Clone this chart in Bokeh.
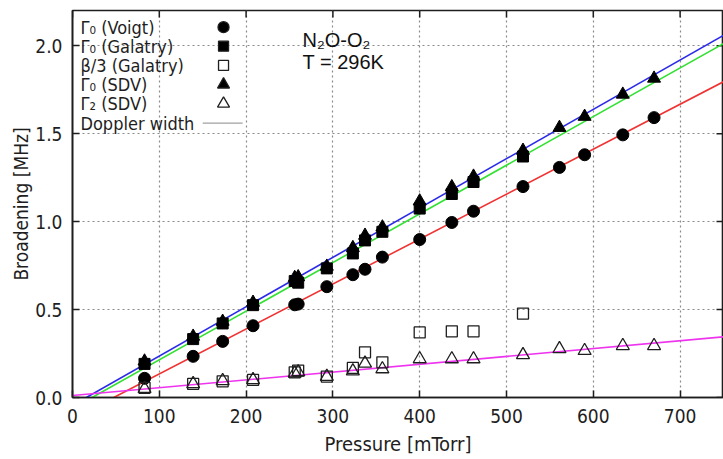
from bokeh.plotting import figure
from bokeh.models import Range1d, Label, FixedTicker, PrintfTickFormatter
from bokeh.embed import file_html
from bokeh.resources import INLINE

# ---------------- data ----------------
pressure = [83, 139, 173, 208, 256, 260, 293, 323, 337, 357, 400, 437, 462, 519, 561, 590, 634, 670]
pressure_gal = pressure[:14]

g0_voigt = [0.109, 0.234, 0.319, 0.408, 0.527, 0.531, 0.630, 0.698, 0.729, 0.798,
            0.898, 0.995, 1.059, 1.199, 1.308, 1.380, 1.493, 1.591]
g0_galatry = [0.191, 0.332, 0.421, 0.525, 0.662, 0.653, 0.734, 0.819, 0.893, 0.942,
              1.074, 1.157, 1.225, 1.370]
beta3_galatry = [0.055, 0.077, 0.092, 0.100, 0.143, 0.153, 0.119, 0.168, 0.257, 0.200,
                 0.370, 0.376, 0.376, 0.477]
g0_sdv = [0.206, 0.347, 0.432, 0.540, 0.681, 0.685, 0.745, 0.851, 0.921, 0.968,
          1.116, 1.197, 1.257, 1.404, 1.534, 1.597, 1.723, 1.814]
g2_sdv = [0.050, 0.077, 0.095, 0.100, 0.138, 0.145, 0.119, 0.150, 0.194, 0.162,
          0.219, 0.219, 0.219, 0.242, 0.276, 0.266, 0.294, 0.294]

# linear fits (end points)
fit_voigt_x, fit_voigt_y = [47.5, 750], [0.0, 1.795]
fit_gal_x, fit_gal_y = [22.6, 750], [0.0, 2.012]
fit_sdv_x, fit_sdv_y = [16.0, 750], [0.0, 2.059]
fit_g2_x, fit_g2_y = [0.0, 750], [0.011, 0.345]

legend_labels = ["Γ₀ (Voigt)", "Γ₀ (Galatry)", "β/3 (Galatry)", "Γ₀ (SDV)", "Γ₂ (SDV)", "Doppler width"]
legend_markers = ["circle", "square", "square", "triangle", "triangle"]
legend_fills = ["black", "black", None, "black", None]
legend_rows_y = [2.105, 1.997, 1.888, 1.779, 1.670, 1.560]
legend_key_x = 174
legend_text_x = 9.2
x_ticks = [0, 100, 200, 300, 400, 500, 600, 700]
y_ticks = [0.0, 0.5, 1.0, 1.5, 2.0]
X_MAX, Y_MAX = 750, 2.2

FONT = "'DejaVu Sans Condensed', 'DejaVu Sans', sans-serif"
INK = "#1e1e1e"

p = figure(width=723, height=459, output_backend="svg", toolbar_location=None,
           x_range=Range1d(0, X_MAX), y_range=Range1d(0, Y_MAX),
           min_border_left=72, min_border_right=0, min_border_top=10, min_border_bottom=62,
           background_fill_color="white", border_fill_color="white")
p.outline_line_color = INK
p.outline_line_width = 1.6

# grid
for g in (p.xgrid, p.ygrid):
    g.grid_line_color = "#8a8a8a"
    g.grid_line_dash = "2 3"
    g.grid_line_width = 1.2
p.xgrid.ticker = FixedTicker(ticks=x_ticks)
p.ygrid.ticker = FixedTicker(ticks=y_ticks)

# axes
xa = p.xaxis[0]
ya = p.yaxis[0]
xa.ticker = FixedTicker(ticks=x_ticks)
ya.ticker = FixedTicker(ticks=y_ticks)
ya.formatter = PrintfTickFormatter(format="%.1f")
for ax in (xa, ya):
    ax.major_tick_in = 7
    ax.major_tick_out = 0
    ax.minor_tick_line_color = None
    ax.axis_line_color = INK
    ax.axis_line_width = 1.6
    ax.major_tick_line_color = INK
    ax.major_tick_line_width = 1.5
    ax.major_label_text_font = FONT
    ax.major_label_text_font_size = "19px"
    ax.major_label_text_color = INK
    ax.axis_label_text_font = FONT
    ax.axis_label_text_font_style = "normal"
    ax.axis_label_text_color = INK
xa.axis_label = "Pressure [mTorr]"
ya.axis_label = "Broadening [MHz]"
xa.axis_label_text_font_size = "20px"
ya.axis_label_text_font_size = "19px"
xa.major_label_standoff = 11
xa.axis_label_standoff = 6
ya.major_label_standoff = 10
ya.axis_label_standoff = 0

# mirrored inward ticks on top and right borders
tick_len_y = 7 / 176.0
tick_len_x = 7 / 0.868
p.segment(x0=x_ticks, y0=[Y_MAX] * len(x_ticks), x1=x_ticks, y1=[Y_MAX - tick_len_y] * len(x_ticks),
          line_color=INK, line_width=1.5)
p.segment(x0=[X_MAX] * len(y_ticks), y0=y_ticks, x1=[X_MAX - tick_len_x] * len(y_ticks), y1=y_ticks,
          line_color=INK, line_width=1.5)

# fit lines
RED, GREEN, BLUE, MAG = "#f03232", "#33e033", "#2a2ae8", "#ee33ee"
p.line(fit_voigt_x, fit_voigt_y, line_color=RED, line_width=1.6)
p.line(fit_gal_x, fit_gal_y, line_color=GREEN, line_width=1.6)
p.line(fit_sdv_x, fit_sdv_y, line_color=BLUE, line_width=1.6)
p.line(fit_g2_x, fit_g2_y, line_color=MAG, line_width=1.6)

# points
sizes = {"circle": 12, "square": 11, "triangle": 13}
p.scatter(pressure, g0_voigt, marker="circle", size=sizes["circle"], fill_color="black", line_color="black")
p.scatter(pressure_gal, g0_galatry, marker="square", size=sizes["square"], fill_color="black", line_color="black")
p.scatter(pressure_gal, beta3_galatry, marker="square", size=sizes["square"], fill_color=None,
          line_color=INK, line_width=1.3)
p.scatter(pressure, g0_sdv, marker="triangle", size=sizes["triangle"], fill_color="black", line_color="black")
p.scatter(pressure, g2_sdv, marker="triangle", size=sizes["triangle"], fill_color=None,
          line_color=INK, line_width=1.3)

# legend, gnuplot style: text left, key right
for lab, yy in zip(legend_labels, legend_rows_y):
    p.add_layout(Label(x=legend_text_x, y=yy, text=lab, text_font=FONT, text_font_size="18px",
                       text_baseline="middle", text_align="left", text_color=INK))
for mk, fc, yy in zip(legend_markers, legend_fills, legend_rows_y[:5]):
    p.scatter([legend_key_x], [yy], marker=mk, size=sizes[mk] - 1,
              fill_color=fc, line_color=INK, line_width=1.3)
p.segment(x0=[legend_key_x - 24], y0=[legend_rows_y[5]], x1=[legend_key_x + 22], y1=[legend_rows_y[5]],
          line_color="#a0a0a0", line_width=1.2)

p.add_layout(Label(x=265, y=2.03, text="N₂O-O₂", text_font="Liberation Sans",
                   text_font_size="20px", text_baseline="middle", text_color="#111111"))
p.add_layout(Label(x=265, y=1.91, text="T = 296K", text_font="Liberation Sans",
                   text_font_size="20px", text_baseline="middle", text_color="#111111"))

open("out.html", "w").write(file_html(p, INLINE))
